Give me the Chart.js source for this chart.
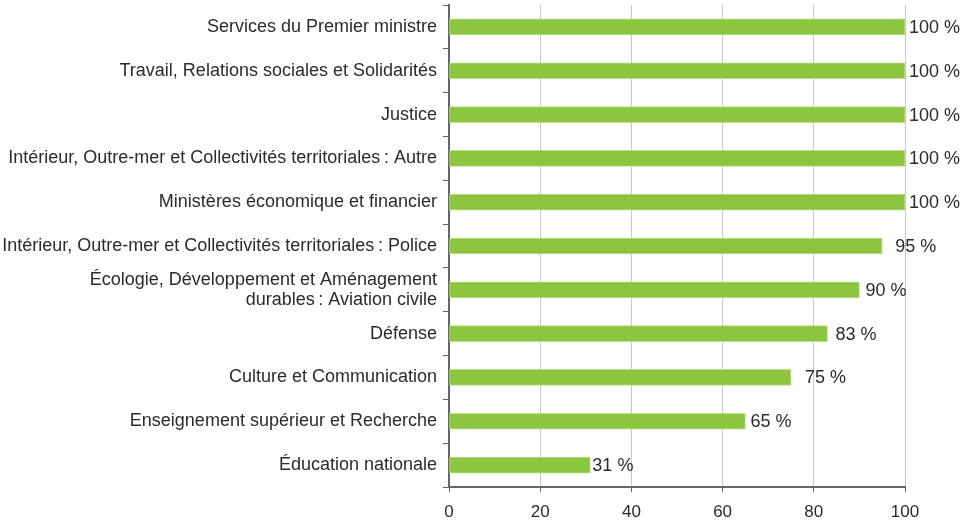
<!DOCTYPE html>
<html>
<head>
<meta charset="utf-8">
<script src="https://cdn.jsdelivr.net/npm/chart.js@4"></script>
<style>
  html, body { margin: 0; padding: 0; background: #fff; }
  #wrap { width: 967px; height: 522px; }
</style>
</head>
<body>
<div id="wrap"><canvas id="graf"></canvas></div>
<script>
// categorias (de cima para baixo)
const ministeres = [
  'Services du Premier ministre',
  'Travail, Relations sociales et Solidarités',
  'Justice',
  'Intérieur, Outre-mer et Collectivités territoriales\u202F: Autre',
  'Ministères économique et financier',
  'Intérieur, Outre-mer et Collectivités territoriales\u202F: Police',
  ['Écologie, Développement et Aménagement', 'durables\u202F: Aviation civile'],
  'Défense',
  'Culture et Communication',
  'Enseignement supérieur et Recherche',
  'Éducation nationale'
];
const taux = [100, 100, 100, 100, 100, 95, 90, 83, 75, 65, 31];
const ticksX = [0, 20, 40, 60, 80, 100];

const fonte = 'Liberation Sans, Arial, sans-serif';
const corTexto = '#2b2b2b';

// rótulos de valor à direita das barras
const rotulos = {
  id: 'rotulos',
  afterDatasetsDraw(chart, args, opts) {
    const ctx = chart.ctx;
    const meta = chart.getDatasetMeta(0);
    ctx.save();
    ctx.font = '18px ' + fonte;
    ctx.fillStyle = corTexto;
    ctx.textBaseline = 'middle';
    ctx.textAlign = 'left';
    meta.data.forEach((bar, i) => {
      const d = opts.decalage[i] || 4;
      ctx.fillText(taux[i] + ' %', bar.x + d, bar.y + 1);
    });
    ctx.restore();
  }
};

new Chart(document.getElementById('graf'), {
  type: 'bar',
  data: {
    labels: ministeres,
    datasets: [{
      data: taux,
      backgroundColor: '#8cc63f',
      borderColor: '#b9df8c',
      borderWidth: 1,
      borderSkipped: false,
      barThickness: 16
    }]
  },
  options: {
    indexAxis: 'y',
    responsive: true,
    maintainAspectRatio: false,
    animation: false,
    layout: { padding: { left: 0, right: 62, top: 5, bottom: 0 } },
    plugins: {
      legend: { display: false },
      tooltip: { enabled: false },
      rotulos: { decalage: [4, 4, 4, 4, 4, 13, 6, 8, 14, 5, 2] }
    },
    scales: {
      x: {
        min: 0,
        max: 100,
        afterBuildTicks: s => { s.ticks = ticksX.map(v => ({ value: v })); },
        afterFit: s => { s.height = 35; },
        grid: { color: '#c8c8c8', tickColor: '#666', tickLength: 5 },
        border: { color: '#666', width: 2 },
        ticks: { color: corTexto, font: { family: fonte, size: 17 }, padding: 10 }
      },
      y: {
        afterFit: s => { s.width = 449; s.paddingTop = 0; s.paddingBottom = 0; },
        grid: { offset: true, drawOnChartArea: false, tickColor: '#666', tickLength: 6 },
        border: { color: '#666', width: 2 },
        ticks: { color: corTexto, autoSkip: false, font: { family: fonte, size: 18, lineHeight: 1.1 }, padding: 6 }
      }
    }
  },
  plugins: [rotulos]
});
</script>
</body>
</html>
